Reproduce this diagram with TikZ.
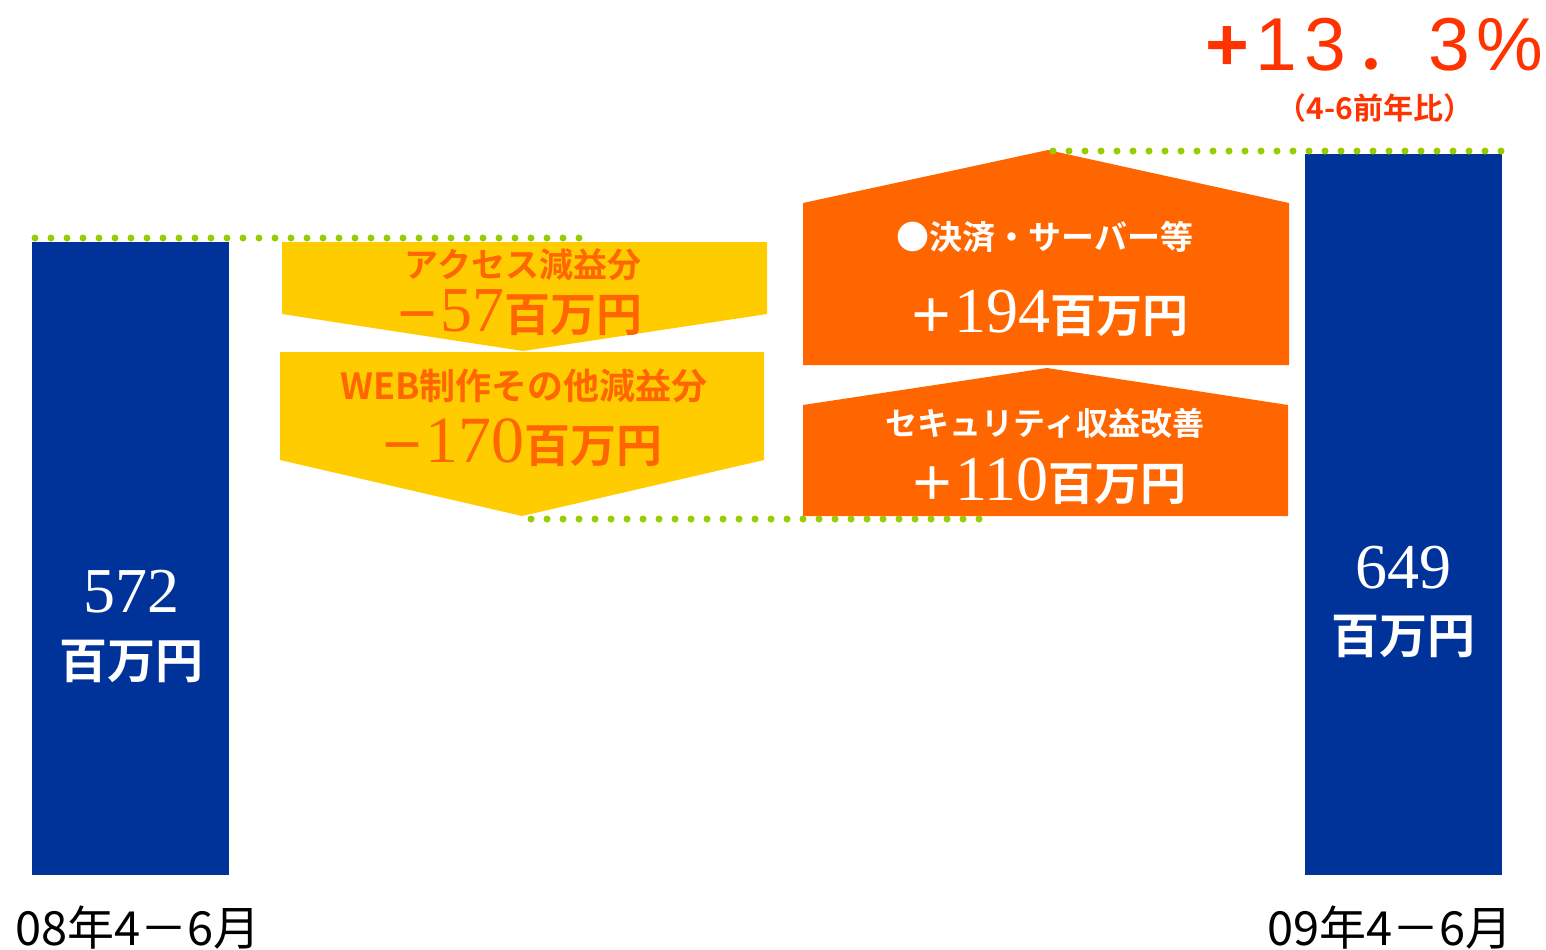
\documentclass[tikz,border=0pt]{standalone}
\usepackage{fontspec}
\newfontfamily\cjk{Noto Sans CJK JP}
\newfontfamily\cjkb{Noto Sans CJK JP Bold}
\newfontfamily\ser{Liberation Serif}
\newfontfamily\lsans{Liberation Sans}
\definecolor{barblue}{HTML}{003399}
\definecolor{gold}{HTML}{FFCC00}
\definecolor{orng}{HTML}{FF6600}
\definecolor{dotgreen}{HTML}{99CC00}
\definecolor{hired}{HTML}{FF3300}
\newcommand\fsz[1]{\fontsize{#1}{#1}\selectfont}
\tikzset{
  txt/.style={inner sep=0pt, outer sep=0pt},
  dotline/.style={draw=dotgreen, line width=3.5pt, line cap=round, dash pattern=on 0pt off 8pt},
  bar/.style={fill=barblue},
}
\begin{document}
\begin{tikzpicture}[x=0.5pt,y=-0.5pt]
\useasboundingbox (0,0) rectangle (1546,949);
% bars
\fill[bar] (32,242) rectangle (229,875);
\fill[bar] (1305,154) rectangle (1502,875);
% yellow down arrows
\fill[gold] (282,242) -- (767,242) -- (767,314) -- (523,351) -- (282,314) -- cycle;
\fill[gold] (280,352) -- (764,352) -- (764,460) -- (522,516) -- (280,460) -- cycle;
% orange up arrows
\fill[orng] (803,365) -- (803,203) -- (1048,150) -- (1289,203) -- (1289,365) -- cycle;
\fill[orng] (803,516) -- (803,405) -- (1047,368) -- (1288,405) -- (1288,516) -- cycle;
% dotted level lines
\coordinate (l1a) at (35,238);
\coordinate (l1b) at (581,238);
\coordinate (l2a) at (531,519);
\coordinate (l2b) at (987,519);
\coordinate (l3a) at (1053,151);
\coordinate (l3b) at (1501,151);
\draw[dotline] (l1a) -- (l1b);
\draw[dotline] (l2a) -- (l2b);
\draw[dotline] (l3a) -- (l3b);
% yellow texts
\node[txt, text=orng] (ya) at (523,265) {\cjkb\fsz{17pt}アクセス減益分};
\node[txt, text=orng, anchor=base] (yb) at (518,331) {{\cjkb\fsz{23pt}－}{\ser\fsz{32pt}57}{\cjkb\fsz{23pt}百万円}};
\node[txt, text=orng] (yc) at (524,386) {\cjkb\fsz{18pt}WEB制作その他減益分};
\node[txt, text=orng, anchor=base] (yd) at (521,462) {{\cjkb\fsz{23pt}－}{\ser\fsz{33pt}170}{\cjkb\fsz{23pt}百万円}};
% orange texts
\node[txt, text=white] (oa) at (1045,237) {\cjkb\fsz{16.5pt}●決済・サーバー等};
\node[txt, text=white, anchor=base] (ob) at (1048,332) {{\cjkb\fsz{23pt}＋}{\ser\fsz{32pt}194}{\cjkb\fsz{23pt}百万円}};
\node[txt, text=white] (oc) at (1045,423) {\cjkb\fsz{16pt}セキュリティ収益改善};
\node[txt, text=white, anchor=base] (od) at (1048,500) {{\cjkb\fsz{23pt}＋}{\ser\fsz{32pt}110}{\cjkb\fsz{23pt}百万円}};
% bar texts
\node[txt, text=white, anchor=base] (v08) at (131,612) {\ser\fsz{32pt}572};
\node[txt, text=white] (u08) at (131,661) {\cjkb\fsz{24pt}百万円};
\node[txt, text=white, anchor=base] (v09) at (1403,588) {\ser\fsz{32pt}649};
\node[txt, text=white] (u09) at (1403,636) {\cjkb\fsz{24pt}百万円};
% axis labels
\node[txt] (lab08) at (138,928) {\cjk\fsz{23.5pt}08年4－6月};
\node[txt] (lab09) at (1390,928) {\cjk\fsz{23.5pt}09年4－6月};
% growth
\node[txt, text=hired, anchor=base west] (pct) at (1205,70) {\lsans\fsz{37.5pt}{\bfseries +}\hspace{3.5pt}1\hspace{3.5pt}3\hspace{3.5pt}{\cjk ．}3\hspace{3.5pt}\%};
\node[txt, text=hired] (pctsub) at (1375,108) {\cjkb\fsz{15pt}（4-6前年比）};
\end{tikzpicture}
\end{document}
